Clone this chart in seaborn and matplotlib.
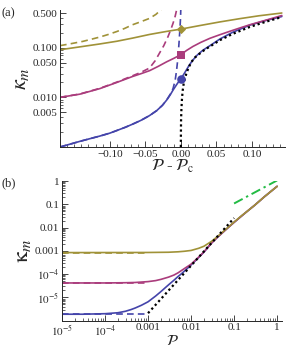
"""
Recreation of the two-panel kappa_m figure
"""
import numpy as np
import pandas as pd
import matplotlib
matplotlib.use('Agg')
import matplotlib.pyplot as plt
import matplotlib.ticker as mtick
import seaborn as sns

## Colours
c_olive = '#a09238'
c_magenta = '#aa3c7c'
c_blue = '#4444aa'
c_green = '#22bb44'

## Panel (a) data: kappa_m vs P - P_c
a_olive_x = [-0.170, -0.142, -0.114, -0.090, -0.068, -0.044, -0.020, 0.0, 0.027, 0.055, 0.083, 0.110, 0.142]
a_olive_y = [0.091, 0.104, 0.119, 0.135, 0.156, 0.185, 0.213, 0.237, 0.28, 0.331, 0.385, 0.44, 0.50]
a_olive_dash_x = [-0.170, -0.154, -0.138, -0.126, -0.114, -0.102, -0.090, -0.079, -0.068, -0.056, -0.044, -0.035, -0.027]
a_olive_dash_y = [0.110, 0.121, 0.134, 0.148, 0.164, 0.185, 0.212, 0.245, 0.290, 0.335, 0.39, 0.47, 0.60]

a_mag_x = [-0.170, -0.142, -0.114, -0.090, -0.068, -0.056, -0.044, -0.032, -0.020, -0.010, 0.0,
           0.008, 0.017, 0.028, 0.041, 0.055, 0.068, 0.083, 0.097, 0.120, 0.142]
a_mag_y = [0.0100, 0.0116, 0.0150, 0.0200, 0.0263, 0.030, 0.0345, 0.042, 0.052, 0.061, 0.0724,
           0.088, 0.106, 0.128, 0.155, 0.183, 0.212, 0.25, 0.29, 0.36, 0.445]
a_mag_dash_x = [-0.170, -0.142, -0.114, -0.090, -0.068, -0.056, -0.044, -0.036, -0.030, -0.024,
                -0.018, -0.014, -0.011, -0.008, -0.006]
a_mag_dash_y = [0.0100, 0.0117, 0.0152, 0.0203, 0.0272, 0.032, 0.039, 0.055, 0.078, 0.11,
                0.168, 0.235, 0.31, 0.43, 0.575]

a_blue_x = [-0.170, -0.155, -0.142, -0.128, -0.114, -0.100, -0.090, -0.078, -0.068, -0.056, -0.044,
            -0.034, -0.026, -0.020, -0.015, -0.011, -0.006, -0.002, 0.0, 0.004, 0.008, 0.012,
            0.017, 0.023, 0.031, 0.041, 0.055, 0.073, 0.097, 0.120, 0.142]
a_blue_y = [0.00100, 0.00115, 0.00130, 0.00147, 0.00166, 0.00190, 0.00215, 0.00250, 0.00288, 0.00345, 0.00430,
            0.00540, 0.0069, 0.0088, 0.0112, 0.0140, 0.0180, 0.0218, 0.0237, 0.029, 0.0360, 0.045,
            0.0565, 0.071, 0.089, 0.110, 0.150, 0.205, 0.285, 0.355, 0.425]
a_blue_dash_x = [-0.170, -0.155, -0.142, -0.128, -0.114, -0.100, -0.090, -0.078, -0.068, -0.056, -0.044,
                 -0.034, -0.026, -0.020, -0.015, -0.011, -0.008, -0.006, -0.004, -0.0025, -0.0012, -0.0004, 0.0]
a_blue_dash_y = [0.00100, 0.00115, 0.00130, 0.00147, 0.00166, 0.00190, 0.00215, 0.00250, 0.00288, 0.00345, 0.00430,
                 0.00540, 0.0069, 0.0088, 0.0115, 0.0150, 0.022, 0.035, 0.065, 0.13, 0.25, 0.42, 0.66]

a_dot_x = [0.0, 0.0001, 0.0003, 0.0008, 0.0015, 0.0025, 0.004, 0.006, 0.008, 0.011, 0.015, 0.020,
           0.027, 0.034, 0.041, 0.055, 0.073, 0.097, 0.120, 0.142]
a_dot_y = [0.001, 0.002, 0.0035, 0.0058, 0.009, 0.0135, 0.019, 0.025, 0.031, 0.040, 0.052, 0.064,
           0.077, 0.092, 0.106, 0.142, 0.19, 0.262, 0.335, 0.415]

a_mark_x = [0.0, 0.0, 0.0]
a_mark_y = [0.237, 0.0724, 0.0237]

a_xticks = [-0.10, -0.05, 0.0, 0.05, 0.10]
a_xticklabels = ['\u22120.10', '\u22120.05', '0.00', '0.05', '0.10']
a_yticks = [0.005, 0.01, 0.05, 0.1, 0.5]
a_yticklabels = ['0.005', '0.010', '0.050', '0.100', '0.500']

## Panel (b) data: kappa_m vs P
b_blue_x = [1e-5, 3e-5, 1e-4, 2e-4, 3e-4, 4e-4, 5e-4, 7e-4, 1e-3, 1.5e-3, 2e-3, 2.5e-3, 3e-3, 4e-3, 5e-3,
            6e-3, 8e-3, 0.01, 0.015, 0.02, 0.03, 0.04, 0.05, 0.07, 0.1, 0.15, 0.2, 0.3, 0.5, 0.7, 1.0]
b_blue_y = [1.9e-6, 1.9e-6, 2.0e-6, 2.2e-6, 2.55e-6, 3.0e-6, 3.5e-6, 4.6e-6, 6.5e-6, 1.15e-5, 1.8e-5, 2.6e-5,
            3.5e-5, 5.5e-5, 8e-5, 1.05e-4, 1.7e-4, 2.5e-4, 5.2e-4, 9e-4, 2.2e-3, 3.7e-3, 5.4e-3, 9.5e-3,
            0.017, 0.032, 0.05, 0.092, 0.21, 0.35, 0.6]
b_mag_x = [1e-5, 1e-4, 3e-4, 5e-4, 1e-3, 1.5e-3, 2e-3, 3e-3, 4e-3, 5e-3, 7e-3, 0.01, 0.015, 0.02,
           0.03, 0.04, 0.05, 0.07, 0.1, 0.15, 0.2, 0.3, 0.5, 0.7, 1.0]
b_mag_y = [4.2e-5, 4.2e-5, 4.3e-5, 4.4e-5, 4.8e-5, 5.3e-5, 6e-5, 7.5e-5, 9.2e-5, 1.15e-4, 1.75e-4, 2.7e-4,
           5.4e-4, 9.2e-4, 2.2e-3, 3.7e-3, 5.4e-3, 9.5e-3, 0.017, 0.032, 0.05, 0.092, 0.21, 0.35, 0.6]
b_olive_x = [1e-5, 1e-3, 3e-3, 5e-3, 7e-3, 0.01, 0.015, 0.02, 0.03, 0.04, 0.05, 0.07, 0.1, 0.15,
             0.2, 0.3, 0.5, 0.7, 1.0]
b_olive_y = [8.5e-4, 8.6e-4, 8.8e-4, 9.2e-4, 9.7e-4, 1.05e-3, 1.3e-3, 1.6e-3, 2.6e-3, 4.0e-3, 5.7e-3,
             9.8e-3, 0.0175, 0.033, 0.05, 0.092, 0.21, 0.35, 0.6]
b_dash_x = [1e-5, 1e-3]
b_blue_dash_y = [1.9e-6, 1.9e-6]
b_mag_dash_y = [4.2e-5, 4.2e-5]
b_olive_dash_y = [8.5e-4, 8.5e-4]
b_dot_x = [1e-3, 0.1]
b_dot_y = [2.1e-6, 0.026]
b_green_x = [0.1, 1.0]
b_green_y = [0.11, 1.08]

b_xticks = [1e-5, 1e-4, 1e-3, 1e-2, 1e-1, 1]
b_xticklabels = [r'$10^{-5}$', r'$10^{-4}$', '0.001', '0.01', '0.1', '1']
b_yticks = [1e-5, 1e-4, 1e-3, 1e-2, 1e-1, 1]
b_yticklabels = [r'$10^{-5}$', r'$10^{-4}$', '0.001', '0.01', '0.1', '1']

sns.set_style('ticks')
plt.rcParams['font.family'] = ['Liberation Serif', 'DejaVu Serif']
plt.rcParams['mathtext.fontset'] = 'stix'

lw = 1.2
dash = (0, (4, 2.5))


def line(ax, x, y, color, ls='-', width=lw):
    sns.lineplot(x=x, y=y, ax=ax, color=color, linestyle=ls, linewidth=width,
                 sort=False, estimator=None)


def style_axis(ax):
    sns.despine(ax=ax)
    ax.tick_params(which='major', direction='in', length=4, width=0.6,
                   labelsize=8, pad=2)
    ax.tick_params(which='minor', direction='in', length=2, width=0.5)
    for s in ['left', 'bottom']:
        ax.spines[s].set_linewidth(0.7)


fig = plt.figure(figsize=(2.89, 3.51), dpi=100)

## Panel (a)
ax1 = fig.add_axes([60 / 289, 1 - 147 / 351, 225 / 289, 137 / 351])
line(ax1, a_olive_dash_x, a_olive_dash_y, c_olive, dash)
line(ax1, a_mag_dash_x, a_mag_dash_y, c_magenta, dash)
line(ax1, a_blue_dash_x, a_blue_dash_y, c_blue, dash)
line(ax1, a_blue_x, a_blue_y, c_blue)
line(ax1, a_mag_x, a_mag_y, c_magenta)
line(ax1, a_olive_x, a_olive_y, c_olive)
line(ax1, a_dot_x, a_dot_y, 'black', (0, (1, 1.3)), 1.6)
sns.scatterplot(x=a_mark_x[:1], y=a_mark_y[:1], ax=ax1, color=c_olive, marker='D', s=22, linewidth=0, zorder=5)
sns.scatterplot(x=a_mark_x[1:2], y=a_mark_y[1:2], ax=ax1, color=c_magenta, marker='s', s=38, linewidth=0, zorder=5)
sns.scatterplot(x=a_mark_x[2:], y=a_mark_y[2:], ax=ax1, color=c_blue, marker='o', s=38, linewidth=0, zorder=5)
ax1.set_yscale('log')
ax1.set_xlim(-0.170, 0.1465)
ax1.set_ylim(0.001, 0.575)
ax1.set_xticks(a_xticks)
ax1.set_xticklabels(a_xticklabels)
ax1.xaxis.set_minor_locator(mtick.MultipleLocator(0.01))
ax1.set_yticks(a_yticks)
ax1.set_yticklabels(a_yticklabels)
ax1.yaxis.set_minor_formatter(mtick.NullFormatter())
style_axis(ax1)
ax1.set_xlabel(r'$\mathcal{P}$ - $\mathcal{P}_{\rm c}$', fontsize=12, labelpad=-1)
ax1.set_ylabel(r'$\kappa_m$', fontsize=16, labelpad=1)

## Panel (b)
ax2 = fig.add_axes([62 / 289, 1 - 320.7 / 351, 220 / 289, 139.7 / 351])
line(ax2, b_dash_x, b_blue_dash_y, c_blue, dash)
line(ax2, b_dash_x, b_mag_dash_y, c_magenta, dash)
line(ax2, b_dash_x, b_olive_dash_y, c_olive, dash)
line(ax2, b_blue_x, b_blue_y, c_blue)
line(ax2, b_mag_x, b_mag_y, c_magenta)
line(ax2, b_olive_x, b_olive_y, c_olive)
line(ax2, b_dot_x, b_dot_y, 'black', (0, (1, 1.3)), 1.6)
line(ax2, b_green_x, b_green_y, c_green, (0, (5, 2, 1.2, 2)), 1.4)
ax2.set_xscale('log')
ax2.set_yscale('log')
ax2.set_xlim(1e-5, 1.3)
ax2.set_ylim(1e-6, 1.02)
ax2.set_xticks(b_xticks)
ax2.set_xticklabels(b_xticklabels)
ax2.set_yticks(b_yticks)
ax2.set_yticklabels(b_yticklabels)
ax2.xaxis.set_minor_formatter(mtick.NullFormatter())
ax2.yaxis.set_minor_formatter(mtick.NullFormatter())
style_axis(ax2)
ax2.set_xlabel(r'$\mathcal{P}$', fontsize=11, labelpad=-3)
ax2.set_ylabel(r'$\mathrm{\kappa}_m$', fontsize=16, labelpad=1)

fig.text(2 / 289, 1 - 13 / 351, '(a)', fontsize=9, va='center', ha='left')
fig.text(2 / 289, 1 - 183 / 351, '(b)', fontsize=9, va='center', ha='left')

fig.savefig('out.png', dpi=100)
